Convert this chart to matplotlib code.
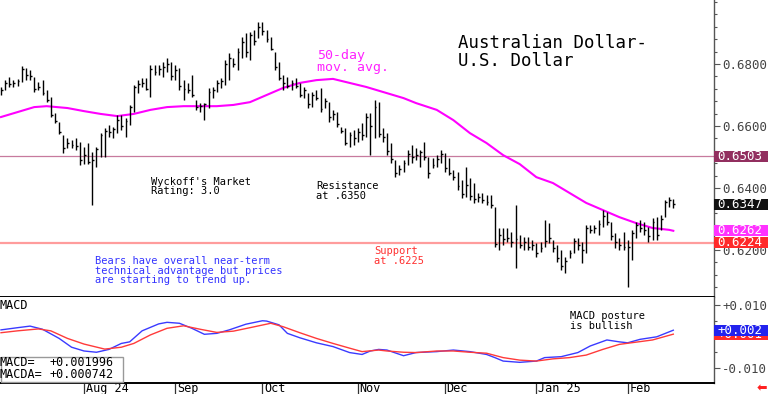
import matplotlib
matplotlib.use('Agg')
import matplotlib.pyplot as plt
import matplotlib.transforms as mtrans
from matplotlib.patches import Rectangle
from matplotlib.ticker import MultipleLocator, FixedLocator, FixedFormatter
import pandas as pd

# ---------------- data ----------------
highs = [
    .6725, .6748, .6758, .6748, .6751, .6793, .6787, .6781, .6758, .6742,
    .6748, .6716, .6693, .6642, .6613, .6571, .6561, .6555, .6561, .6548,
    .6532, .6545, .6516, .6532, .6577, .6593, .6603, .6597, .6635, .6635,
    .6626, .6668, .6732, .6748, .6755, .6755, .6797, .6797, .6797, .6806,
    .6819, .6806, .6797, .6787, .6748, .6738, .6764, .6684, .6674, .6674,
    .6722, .6726, .6748, .6755, .6813, .6835, .6819, .6851, .6887, .6899,
    .6903, .6909, .6935, .6935, .6909, .6887, .6838, .6806, .6764, .6758,
    .6748, .6755, .6738, .6726, .6706, .6710, .6716, .6722, .6690, .6677,
    .6652, .6645, .6597, .6593, .6580, .6587, .6593, .6609, .6642, .6642,
    .6684, .6677, .6593, .6577, .6545, .6490, .6474, .6490, .6523, .6539,
    .6529, .6523, .6548, .6500, .6496, .6506, .6523, .6513, .6496, .6458,
    .6451, .6426, .6467, .6432, .6416, .6384, .6384, .6377, .6377, .6339,
    .6271, .6271, .6271, .6258, .6345, .6248, .6242, .6242, .6232, .6222,
    .6226, .6297, .6287, .6232, .6216, .6200, .6177, .6200, .6239, .6239,
    .6226, .6281, .6281, .6281, .6297, .6329, .6323, .6290, .6255, .6239,
    .6258, .6232, .6264, .6290, .6297, .6290, .6274, .6303, .6306, .6313,
    .6361, .6371, .6365]
lows = [
    .6700, .6716, .6726, .6726, .6729, .6742, .6748, .6748, .6710, .6716,
    .6700, .6677, .6629, .6610, .6574, .6513, .6529, .6529, .6523, .6474,
    .6477, .6477, .6345, .6467, .6500, .6500, .6564, .6561, .6577, .6587,
    .6564, .6603, .6645, .6706, .6726, .6716, .6693, .6764, .6764, .6758,
    .6774, .6748, .6748, .6716, .6684, .6706, .6693, .6652, .6645, .6619,
    .6658, .6690, .6710, .6722, .6732, .6748, .6790, .6781, .6819, .6822,
    .6813, .6861, .6883, .6893, .6870, .6845, .6781, .6748, .6716, .6722,
    .6716, .6722, .6693, .6690, .6658, .6661, .6684, .6645, .6658, .6613,
    .6619, .6597, .6577, .6539, .6532, .6539, .6548, .6555, .6564, .6506,
    .6561, .6564, .6548, .6506, .6480, .6435, .6442, .6451, .6474, .6480,
    .6490, .6467, .6490, .6432, .6464, .6467, .6480, .6451, .6442, .6426,
    .6394, .6367, .6370, .6361, .6351, .6355, .6351, .6345, .6335, .6209,
    .6200, .6216, .6226, .6209, .6142, .6206, .6200, .6200, .6200, .6177,
    .6193, .6209, .6222, .6193, .6161, .6136, .6126, .6174, .6190, .6200,
    .6158, .6190, .6255, .6255, .6248, .6274, .6281, .6232, .6206, .6200,
    .6200, .6080, .6168, .6239, .6258, .6248, .6226, .6232, .6232, .6264,
    .6306, .6339, .6335]
closes = [
    .6715, .6740, .6735, .6740, .6745, .6785, .6765, .6760, .6720, .6725,
    .6705, .6685, .6635, .6615, .6580, .6530, .6545, .6540, .6535, .6490,
    .6505, .6485, .6490, .6525, .6570, .6585, .6580, .6590, .6620, .6600,
    .6615, .6660, .6725, .6735, .6740, .6720, .6785, .6775, .6785, .6790,
    .6800, .6760, .6780, .6730, .6720, .6715, .6700, .6660, .6665, .6670,
    .6710, .6715, .6740, .6745, .6800, .6820, .6800, .6840, .6870, .6840,
    .6895, .6875, .6920, .6905, .6880, .6850, .6790, .6755, .6740, .6730,
    .6740, .6730, .6700, .6715, .6670, .6700, .6690, .6655, .6680, .6630,
    .6640, .6605, .6585, .6545, .6570, .6560, .6580, .6570, .6630, .6600,
    .6660, .6575, .6565, .6520, .6495, .6450, .6460, .6480, .6510, .6500,
    .6505, .6515, .6500, .6450, .6475, .6495, .6510, .6465, .6450, .6435,
    .6405, .6380, .6410, .6375, .6365, .6370, .6360, .6355, .6345, .6220,
    .6250, .6235, .6240, .6225, .6235, .6215, .6225, .6210, .6215, .6190,
    .6205, .6230, .6240, .6205, .6175, .6150, .6165, .6190, .6230, .6215,
    .6200, .6270, .6265, .6270, .6285, .6310, .6290, .6245, .6225, .6215,
    .6210, .6210, .6255, .6280, .6270, .6265, .6245, .6290, .6250, .6300,
    .6355, .6360, .6347]

# 50-day moving average (bar index, value)
ma_idx = [0, 4, 8, 11, 16, 20, 24, 28, 32, 36,
          40, 44, 48, 52, 56, 60, 64, 68, 72, 76,
          80, 84, 88, 92, 97, 100, 105, 109, 113, 117,
          121, 125, 129, 133, 137, 141, 145, 149, 153, 157,
          161, 162]
ma_vals = [0.6629, 0.6645, 0.6661, 0.6664, 0.6658, 0.6648, 0.6639, 0.6632, 0.6639, 0.6652,
           0.6661, 0.6664, 0.6664, 0.6664, 0.6668, 0.6677, 0.6700, 0.6723, 0.6739, 0.6748,
           0.6752, 0.6739, 0.6726, 0.6710, 0.6690, 0.6674, 0.6652, 0.6619, 0.6577, 0.6545,
           0.6506, 0.6477, 0.6435, 0.6416, 0.6384, 0.6352, 0.6329, 0.6306, 0.6287, 0.6271,
           0.6265, 0.6262]

macd_idx = [0, 4, 7, 10, 14, 17, 20, 23, 26, 29,
            31, 34, 38, 40, 43, 46, 49, 52, 55, 59,
            63, 64, 67, 69, 72, 76, 80, 84, 87, 89,
            91, 93, 97, 100, 105, 109, 113, 117, 119, 121,
            125, 129, 131, 135, 139, 142, 146, 149, 151, 154,
            158, 162]
macd_vals = [0.0021, 0.0028, 0.0033, 0.0023, -0.0006, -0.0034, -0.0046, -0.0050, -0.0041, -0.0022,
             -0.0017, 0.0018, 0.0040, 0.0045, 0.0042, 0.0026, 0.0007, 0.0010, 0.0021, 0.0039,
             0.0050, 0.0049, 0.0037, 0.0010, -0.0004, -0.0020, -0.0032, -0.0051, -0.0057, -0.0046,
             -0.0041, -0.0043, -0.0061, -0.0051, -0.0048, -0.0043, -0.0048, -0.0057, -0.0067, -0.0078,
             -0.0082, -0.0078, -0.0067, -0.0064, -0.0051, -0.0030, -0.0011, -0.0017, -0.0020, -0.0009,
             -0.0001, 0.001996]
sig_idx = [0, 4, 9, 12, 16, 20, 25, 29, 32, 36,
           40, 44, 48, 52, 56, 60, 65, 68, 72, 76,
           80, 84, 87, 91, 93, 97, 100, 105, 109, 113,
           117, 121, 125, 129, 133, 137, 141, 145, 149, 153,
           157, 162]
sig_vals = [0.0012, 0.0018, 0.0024, 0.0018, -0.0006, -0.0024, -0.0040, -0.0034, -0.0022, 0.0005,
            0.0026, 0.0034, 0.0023, 0.0013, 0.0017, 0.0028, 0.0042, 0.0031, 0.0012, -0.0006,
            -0.0022, -0.0037, -0.0048, -0.0043, -0.0046, -0.0050, -0.0051, -0.0046, -0.0046, -0.0050,
            -0.0053, -0.0067, -0.0075, -0.0078, -0.0071, -0.0067, -0.0059, -0.0041, -0.0025, -0.0018,
            -0.0011, 0.000742]

month_labels = ['Aug 24', 'Sep', 'Oct', 'Nov', 'Dec', 'Jan 25', 'Feb']
price_ticks = [0.62, 0.64, 0.66, 0.68]
resistance = 0.6503
support = 0.6224
last_close = 0.6347
last_ma = 0.6262
macd_last = 0.001996
macda_last = 0.000742

# trading days (Jan 1 holiday skipped)
dates = pd.bdate_range('2024-07-04', '2025-02-18')
dates = dates[dates != pd.Timestamp('2025-01-01')]
idx = list(range(len(highs)))
month_starts = [i for i in range(1, len(dates)) if dates[i].month != dates[i - 1].month]

# ---------------- figure ----------------
W, H = 768, 394
fig = plt.figure(figsize=(W / 100, H / 100), dpi=100)
fig.patch.set_facecolor('white')
MONO = 'DejaVu Sans Mono'

def fx(px):
    return px / W

def fy(py):
    return 1 - py / H

ax = fig.add_axes([0, fy(296.5), 714 / W, 296.5 / H])
axm = fig.add_axes([0, fy(382.5), 714 / W, (382.5 - 297) / H])

x0, x1 = -1 / 4.15, 713 / 4.15
for a in (ax, axm):
    a.set_xlim(x0, x1)
    a.spines['left'].set_visible(False)
    a.spines['top'].set_visible(False)
    a.spines['right'].set_color('#555555')
    a.spines['right'].set_linewidth(1.0)
    a.spines['bottom'].set_color('black')
    a.spines['bottom'].set_linewidth(1.4)
    a.yaxis.tick_right()
    a.set_facecolor('white')

ax.set_ylim(0.605, 0.70065)
axm.set_ylim(-0.014603, 0.01254)

# price panel
ax.axhline(resistance, color='#c77a9e', lw=0.9, zorder=1)
ax.axhline(support, color='#ff9c9c', lw=1.6, zorder=1)
ax.vlines(idx, lows, highs, colors='black', lw=1.0, zorder=3)
ax.hlines(closes, [i for i in idx], [i + 0.45 for i in idx], colors='black', lw=1.0, zorder=3)
ax.plot(ma_idx, ma_vals, color='#ff00ff', lw=1.5, zorder=2)

ax.set_xticks([])
ax.yaxis.set_major_locator(FixedLocator(price_ticks))
ax.yaxis.set_major_formatter(FixedFormatter(['%.4f' % v for v in price_ticks]))
ax.yaxis.set_minor_locator(MultipleLocator(0.004))
ax.tick_params(axis='y', which='major', length=4, width=0.8, color='#555555',
               labelcolor='#444444', labelsize=9, pad=2, labelfontfamily=MONO)
ax.tick_params(axis='y', which='minor', length=2, width=0.8, color='#555555')

# MACD panel
axm.plot(macd_idx, macd_vals, color='#3a3aff', lw=1.0)
axm.plot(sig_idx, sig_vals, color='#ff3a3a', lw=1.0)
axm.yaxis.set_major_locator(FixedLocator([-0.01, 0.01]))
axm.yaxis.set_major_formatter(FixedFormatter(['-0.010', '+0.010']))
axm.yaxis.set_minor_locator(MultipleLocator(0.005))
axm.tick_params(axis='y', which='major', length=4, width=0.8, color='#555555',
                labelcolor='#444444', labelsize=9, pad=2, labelfontfamily=MONO)
axm.tick_params(axis='y', which='minor', length=2, width=0.8, color='#555555')
axm.set_xticks(month_starts)
axm.set_xticklabels([])
axm.tick_params(axis='x', length=8, width=0.9, color='#333333', direction='out')
bl = mtrans.blended_transform_factory(axm.transData, axm.transAxes)
for i, lab in zip(month_starts, month_labels):
    axm.text(i + 0.4, -0.076, lab, transform=bl, ha='left', va='center',
             fontsize=8.5, family=MONO, color='black', clip_on=False)

# value tags on the right
def tag(a, value, text, bg, hpx, ppu, z=6):
    tr = mtrans.blended_transform_factory(fig.transFigure, a.transData)
    h = hpx / ppu
    fig.add_artist(Rectangle((714 / W, value - h / 2), 1 - 714 / W, h, transform=tr,
                             facecolor=bg, edgecolor='none', zorder=z))
    fig.text(717 / W, value, text, transform=tr, color='white', fontsize=9,
             family=MONO, ha='left', va='center', zorder=z + 0.5)

tag(ax, resistance, '%.4f' % resistance, '#922f5f', 11, 3100)
tag(ax, last_close, '%.4f' % last_close, '#111111', 11, 3100)
tag(ax, last_ma, '%.4f' % last_ma, '#ff33ff', 11, 3100)
tag(ax, support, '%.4f' % support, '#ff2a2a', 11, 3100)
tag(axm, macda_last, '+%.3f' % macda_last, '#ff2a2a', 12, 3150, z=6)
tag(axm, macd_last, '+%.3f' % macd_last, '#2222ee', 11, 3150, z=8)

# annotations
fig.text(fx(458), fy(52.5), 'Australian Dollar-\nU.S. Dollar', fontsize=12.5, family=MONO,
         ha='left', va='center', linespacing=1.0, color='black')
fig.text(fx(317), fy(61), '50-day\nmov. avg.', fontsize=9.5, family=MONO,
         ha='left', va='center', linespacing=0.9, color='#ff22ff')
fig.text(fx(151), fy(186.7), "Wyckoff's Market\nRating: 3.0", fontsize=7.5, family=MONO,
         ha='left', va='center', linespacing=0.95, color='black')
fig.text(fx(316), fy(191.3), 'Resistance\nat .6350', fontsize=7.5, family=MONO,
         ha='left', va='center', linespacing=0.95, color='black')
fig.text(fx(374), fy(256.3), 'Support\nat .6225', fontsize=7.5, family=MONO,
         ha='left', va='center', linespacing=0.95, color='#ff3030')
fig.text(fx(95), fy(270.5), 'Bears have overall near-term\ntechnical advantage but prices\nare starting to trend up.',
         fontsize=7.5, family=MONO, ha='left', va='center', linespacing=0.95, color='#3333ff')
fig.text(fx(570), fy(321), 'MACD posture\nis bullish', fontsize=7.5, family=MONO,
         ha='left', va='center', linespacing=0.95, color='black')
fig.text(fx(0), fy(305.5), 'MACD', fontsize=8.5, family=MONO, ha='left', va='center', color='black')

# MACD value box
fig.add_artist(Rectangle((fx(0.5), fy(381.7)), 122 / W, 25 / H, transform=fig.transFigure,
                         facecolor='white', edgecolor='#999999', lw=1.0, zorder=5))
fig.text(fx(0), fy(362.3), 'MACD=', fontsize=8.5, family=MONO, ha='left', va='center', zorder=6)
fig.text(fx(50), fy(362.3), '%+.6f' % macd_last, fontsize=8.5, family=MONO, ha='left', va='center', zorder=6)
fig.text(fx(0), fy(375), 'MACDA=', fontsize=8.5, family=MONO, ha='left', va='center', zorder=6)
fig.text(fx(50), fy(375), '%+.6f' % macda_last, fontsize=8.5, family=MONO, ha='left', va='center', zorder=6)

fig.text(fx(762), fy(389), '\u2b05', fontsize=9, color='#ff2020', ha='center', va='center')

fig.savefig('out.png', dpi=100, facecolor='white')
